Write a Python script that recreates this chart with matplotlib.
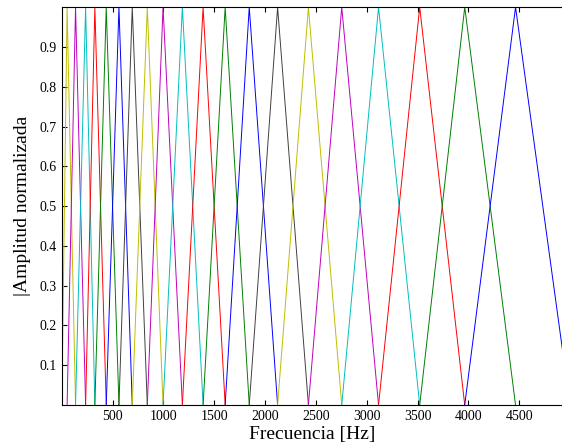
import numpy as np
import matplotlib
matplotlib.use("Agg")
import matplotlib.pyplot as plt

# centri dei filtri (Hz), piu' i bordi 0 e 5000
centri = [52, 135, 234, 325, 437, 562, 693, 841, 996, 1186,
          1390, 1607, 1844, 2123, 2426, 2754, 3116, 3521, 3964, 4464]
f_min = 0
f_max = 5000
colori = [(0.75, 0.75, 0), (0.75, 0, 0.75), (0, 0.75, 0.75), (1, 0, 0),
          (0, 0.5, 0), (0, 0, 1), (0.25, 0.25, 0.25)]
xticks = [500, 1000, 1500, 2000, 2500, 3000, 3500, 4000, 4500]
yticks = [0.1, 0.2, 0.3, 0.4, 0.5, 0.6, 0.7, 0.8, 0.9]

plt.rcParams['font.family'] = ['Liberation Serif', 'DejaVu Serif']

fig = plt.figure(figsize=(5.62, 4.48), dpi=100)
ax = fig.add_axes([0.110, 0.096, 0.890, 0.888])

punti = [f_min] + centri + [f_max]
for i in range(1, len(punti) - 1):
    ax.plot([punti[i - 1], punti[i], punti[i + 1]], [0, 1, 0],
            color=colori[(i - 1) % len(colori)], lw=0.7)

# l'asse destro e' tagliato fuori dall'immagine
ax.set_xlim(0, 4921)
ax.set_ylim(0, 1)
ax.set_xticks(xticks)
ax.set_yticks(yticks)
ax.tick_params(direction='in', top=True, right=False, labelsize=10, length=3.5, width=0.8)
ax.spines['right'].set_visible(False)
for s in ax.spines.values():
    s.set_linewidth(0.8)
ax.set_xlabel('Frecuencia [Hz]', fontsize=14, labelpad=2)
ax.set_ylabel('|Amplitud normalizada', fontsize=14, labelpad=6)

fig.savefig('out.png', dpi=100)
